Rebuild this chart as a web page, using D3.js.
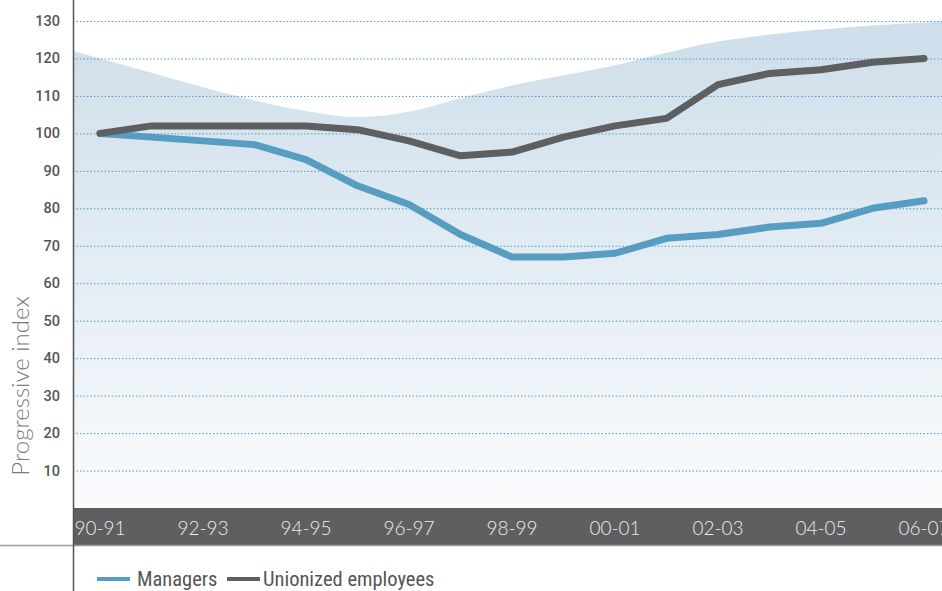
<!DOCTYPE html>
<html>
<head>
<meta charset="utf-8">
<script src="https://cdn.jsdelivr.net/npm/d3@7"></script>
<style>
  body { margin: 0; background: #fff; }
  svg { display: block; }
</style>
</head>
<body>
<div id="chart"></div>
<script>
var svgWidth = 942;
var svgHeight = 591;

var plotLeft = 73;
var plotRight = 942;
var plotTop = 21;
var plotBottom = 508;
var bandHeight = 37;

// data
var periods = ['90-91', '91-92', '92-93', '93-94', '94-95', '95-96', '96-97', '97-98',
               '98-99', '99-00', '00-01', '01-02', '02-03', '03-04', '04-05', '05-06', '06-07'];
var managers = [100, 99, 98, 97, 93, 86, 81, 73, 67, 67, 68, 72, 73, 75, 76, 80, 82];
var unionized = [100, 102, 102, 102, 102, 101, 98, 94, 95, 99, 102, 104, 113, 116, 117, 119, 120];
// light blue background envelope
var envelope = [120, 116.2, 112.3, 108.8, 106, 104.4, 105.8, 109.4, 112.8, 115.5, 118.2, 121.5, 124.5, 126.4, 127.7, 128.8, 129.6];
var yTicks = [10, 20, 30, 40, 50, 60, 70, 80, 90, 100, 110, 120, 130];
var xLabels = ['90-91', '92-93', '94-95', '96-97', '98-99', '00-01', '02-03', '04-05', '06-07'];

var x = d3.scalePoint()
    .domain(periods)
    .range([100, 924]);

var y = d3.scaleLinear()
    .domain([0, 130])
    .range([plotBottom, plotTop]);

var svg = d3.select('#chart')
    .append('svg')
    .attr('width', svgWidth)
    .attr('height', svgHeight);

var defs = svg.append('defs');
var grad = defs.append('linearGradient')
    .attr('id', 'bgGrad')
    .attr('gradientUnits', 'userSpaceOnUse')
    .attr('x1', 0).attr('x2', 0)
    .attr('y1', y(130)).attr('y2', y(0));
grad.append('stop').attr('offset', '0%').attr('stop-color', '#cddeea');
grad.append('stop').attr('offset', '100%').attr('stop-color', '#fafbfd');

// envelope points, extended linearly to both plot edges
var step = x.step();
var envPts = envelope.map(function(v, i) { return [x(periods[i]), y(v)]; });
var leftV = envelope[0] + (envelope[0] - envelope[1]) * (x(periods[0]) - plotLeft) / step;
var n = envelope.length - 1;
var rightV = envelope[n] + (envelope[n] - envelope[n - 1]) * (plotRight - x(periods[n])) / step;
envPts.unshift([plotLeft, y(leftV)]);
envPts.push([plotRight, y(rightV)]);

var area = d3.area()
    .x(d => d[0])
    .y0(plotBottom)
    .y1(d => d[1])
    .curve(d3.curveCatmullRom);

svg.append('path')
    .datum(envPts)
    .attr('d', area)
    .attr('fill', 'url(#bgGrad)');

// gridlines
svg.selectAll('.grid')
    .data(yTicks)
    .enter()
    .append('line')
    .attr('class', 'grid')
    .attr('x1', plotLeft)
    .attr('x2', plotRight)
    .attr('y1', d => y(d) + 0.5)
    .attr('y2', d => y(d) + 0.5)
    .attr('stroke', '#4f9cc9')
    .attr('stroke-width', 1)
    .attr('stroke-dasharray', '1.5,2');

// y tick labels
svg.selectAll('.ytick')
    .data(yTicks)
    .enter()
    .append('text')
    .attr('class', 'ytick')
    .attr('x', 60)
    .attr('y', d => y(d) + 5)
    .attr('text-anchor', 'end')
    .attr('font-family', 'Roboto, sans-serif')
    .attr('font-weight', 500)
    .attr('font-size', 14.5)
    .attr('fill', '#555')
    .text(d => d);

svg.append('text')
    .attr('transform', 'translate(29, 386) rotate(-90)')
    .attr('text-anchor', 'middle')
    .attr('font-family', 'Lato, sans-serif')
    .attr('font-weight', 300)
    .attr('font-size', 24)
    .attr('fill', '#7a7a7a')
    .text('Progressive index');

// x band
svg.append('rect')
    .attr('x', plotLeft)
    .attr('y', plotBottom)
    .attr('width', plotRight - plotLeft)
    .attr('height', bandHeight)
    .attr('fill', '#5e5f61');

svg.append('line')
    .attr('x1', 0)
    .attr('x2', svgWidth)
    .attr('y1', plotBottom + bandHeight + 0.5)
    .attr('y2', plotBottom + bandHeight + 0.5)
    .attr('stroke', '#9a9a9a')
    .attr('stroke-width', 1.5);

svg.selectAll('.xtick')
    .data(xLabels)
    .enter()
    .append('text')
    .attr('class', 'xtick')
    .attr('x', d => x(d))
    .attr('y', plotBottom + 27)
    .attr('text-anchor', 'middle')
    .attr('font-family', 'Lato, sans-serif')
    .attr('font-weight', 300)
    .attr('font-size', 19)
    .attr('fill', '#ececec')
    .text(d => d);

// y axis line
svg.append('line')
    .attr('x1', plotLeft + 0.5)
    .attr('x2', plotLeft + 0.5)
    .attr('y1', 0)
    .attr('y2', svgHeight)
    .attr('stroke', '#555')
    .attr('stroke-width', 1.5);

// series lines
var line = d3.line()
    .x((d, i) => x(periods[i]))
    .y(d => y(d));

var series = [
    {name: 'Managers', values: managers, color: '#579dc1'},
    {name: 'Unionized employees', values: unionized, color: '#5e5f61'}
];

svg.selectAll('.series')
    .data(series)
    .enter()
    .append('path')
    .attr('class', 'series')
    .attr('d', d => line(d.values))
    .attr('fill', 'none')
    .attr('stroke', d => d.color)
    .attr('stroke-width', 7)
    .attr('stroke-linecap', 'round')
    .attr('stroke-linejoin', 'round');

// legend
var legend = svg.append('g')
    .attr('transform', 'translate(97, 579)');

var legX = [0, 130];
legend.selectAll('line')
    .data(series)
    .enter()
    .append('line')
    .attr('x1', (d, i) => legX[i])
    .attr('x2', (d, i) => legX[i] + 33)
    .attr('y1', 0)
    .attr('y2', 0)
    .attr('stroke', d => d.color)
    .attr('stroke-width', 4);

legend.selectAll('text')
    .data(series)
    .enter()
    .append('text')
    .attr('x', (d, i) => legX[i] + (i === 0 ? 40 : 36))
    .attr('y', 6.5)
    .attr('font-family', '"Liberation Sans Narrow", "Roboto Condensed", sans-serif')
    .attr('font-size', 20.5)
    .attr('fill', '#555')
    .text(d => d.name);
</script>
</body>
</html>
